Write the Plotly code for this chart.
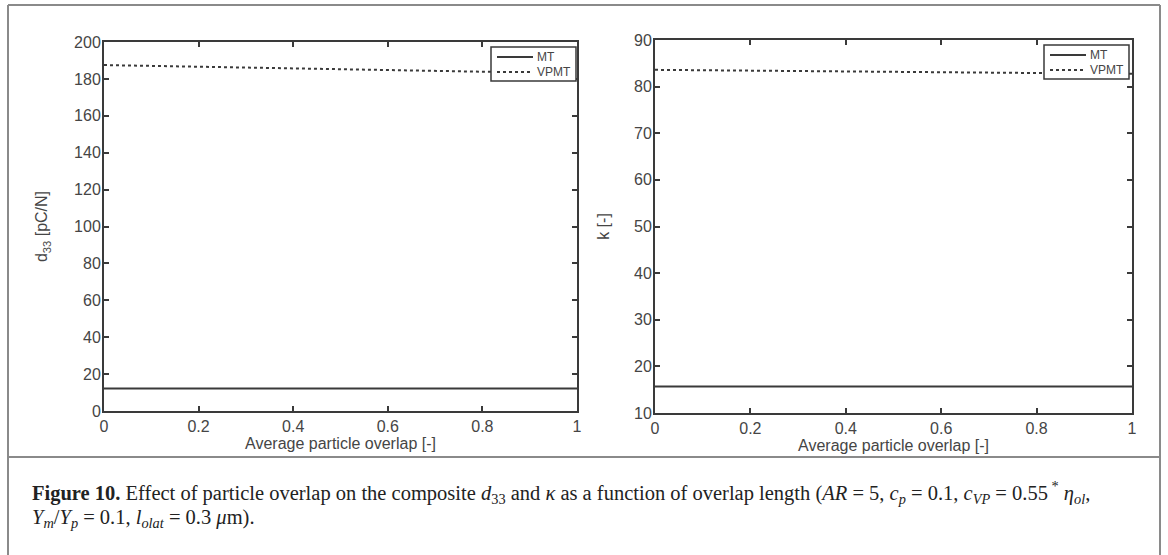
import plotly.graph_objects as go

W, H = 1168, 555

x_overlap = [0, 0.2, 0.4, 0.6, 0.8, 1.0]
d33_MT = [12.2, 12.2, 12.2, 12.2, 12.2, 12.2]
d33_VPMT = [187.5, 186.6, 185.7, 184.8, 183.9, 183.0]
k_MT = [15.7, 15.7, 15.7, 15.7, 15.7, 15.7]
k_VPMT = [83.6, 83.4, 83.25, 83.1, 82.9, 82.75]

x_ticks = [0, 0.2, 0.4, 0.6, 0.8, 1]
x_tick_labels = ["0", "0.2", "0.4", "0.6", "0.8", "1"]
d33_ticks = list(range(0, 201, 20))
k_ticks = list(range(10, 91, 10))
legend_names = ["MT", "VPMT"]

ink = "#3a3a3a"
txt = "#454545"
font = "Liberation Sans, Arial, sans-serif"


def px(xp):
    return xp / W


def py(yp):
    return 1 - yp / H


fig = go.Figure()
fig.add_trace(go.Scatter(x=x_overlap, y=d33_MT, mode="lines", name=legend_names[0],
                         line=dict(color=ink, width=2), xaxis="x", yaxis="y"))
fig.add_trace(go.Scatter(x=x_overlap, y=d33_VPMT, mode="lines", name=legend_names[1],
                         line=dict(color=ink, width=2, dash="dot"), xaxis="x", yaxis="y"))
fig.add_trace(go.Scatter(x=x_overlap, y=k_MT, mode="lines", name=legend_names[0],
                         line=dict(color=ink, width=2), xaxis="x2", yaxis="y2"))
fig.add_trace(go.Scatter(x=x_overlap, y=k_VPMT, mode="lines", name=legend_names[1],
                         line=dict(color=ink, width=2, dash="dot"), xaxis="x2", yaxis="y2"))

axis_common = dict(showgrid=False, zeroline=False, showline=True, linecolor=ink, linewidth=2,
                   mirror="ticks", ticks="inside", ticklen=5, tickcolor=ink, tickwidth=1.5,
                   automargin=False,
                   tickfont=dict(family=font, size=16, color=txt))

xa = dict(axis_common, range=[0, 1], tickvals=x_ticks, ticktext=x_tick_labels,
          title=dict(text="Average particle overlap [-]", font=dict(family=font, size=16, color=txt), standoff=4))

fig.update_layout(
    width=W, height=H, margin=dict(l=0, r=0, t=0, b=0, autoexpand=False),
    paper_bgcolor="white", plot_bgcolor="white",
    showlegend=False,
    xaxis=dict(xa, domain=[px(104), px(577)], anchor="y"),
    yaxis=dict(axis_common, domain=[py(411), py(42)], range=[0, 200], tickvals=d33_ticks, anchor="x",
               ticklabelstandoff=-2,
               title=dict(text="d<sub>33</sub> [pC/N]", font=dict(family=font, size=16, color=txt), standoff=22)),
    xaxis2=dict(xa, domain=[px(655), px(1132)], anchor="y2"),
    yaxis2=dict(axis_common, domain=[py(413), py(40)], range=[10, 90], tickvals=k_ticks, anchor="x2",
                ticklabelstandoff=-2,
                title=dict(text="k [-]", font=dict(family=font, size=16, color=txt), standoff=20)),
)

frame = "#8a8a8a"
shapes = [
    dict(type="line", xref="paper", yref="paper", x0=px(8), x1=px(1160), y0=py(5), y1=py(5), line=dict(color=frame, width=2)),
    dict(type="line", xref="paper", yref="paper", x0=px(8), x1=px(1160), y0=py(457), y1=py(457), line=dict(color=frame, width=2)),
    dict(type="line", xref="paper", yref="paper", x0=px(8), x1=px(8), y0=py(5), y1=0, line=dict(color=frame, width=2)),
    dict(type="line", xref="paper", yref="paper", x0=px(1160), x1=px(1160), y0=py(5), y1=0, line=dict(color=frame, width=2)),
]

# compact MATLAB-style legends: (box left, box top, box right, box bottom)
legend_boxes = [(491, 47, 576, 81), (1044, 45, 1129, 79)]
for (bx0, by0, bx1, by1) in legend_boxes:
    shapes.append(dict(type="rect", xref="paper", yref="paper", x0=px(bx0), x1=px(bx1), y0=py(by0), y1=py(by1),
                       line=dict(color=ink, width=1.5), fillcolor="white", layer="above"))
    rows = [(by0 + 10, "solid"), (by0 + 25, "dot")]
    for (ry, dash), name in zip(rows, legend_names):
        shapes.append(dict(type="line", xref="paper", yref="paper", x0=px(bx0 + 6), x1=px(bx0 + 42),
                           y0=py(ry), y1=py(ry), line=dict(color=ink, width=2, dash=dash), layer="above"))
        fig.add_annotation(x=px(bx0 + 44), y=py(ry), xref="paper", yref="paper", xanchor="left", yanchor="middle",
                           text=name, showarrow=False, font=dict(family=font, size=12, color=txt))

fig.update_layout(shapes=shapes)

serif = "Liberation Serif, Times New Roman, serif"
caption1 = ("<b>Figure 10.</b> Effect of particle overlap on the composite <i>d</i><sub>33</sub> and <i>κ</i> as a function "
            "of overlap length (<i>AR</i> = 5, <i>c<sub>p</sub></i> = 0.1, <i>c<sub>VP</sub></i> = 0.55<sup> *</sup> <i>η<sub>ol</sub></i>,")
caption2 = "<i>Y<sub>m</sub></i>/<i>Y<sub>p</sub></i> = 0.1, <i>l<sub>olat</sub></i> = 0.3 <i>μ</i>m)."
fig.add_annotation(x=px(30), y=py(492), xref="paper", yref="paper", xanchor="left", yanchor="middle",
                   text=caption1, showarrow=False, align="left",
                   font=dict(family=serif, size=20.5, color="#222222"))
fig.add_annotation(x=px(30), y=py(518), xref="paper", yref="paper", xanchor="left", yanchor="middle",
                   text=caption2, showarrow=False, align="left",
                   font=dict(family=serif, size=20.5, color="#222222"))

fig.write_html("out.html", config={"displayModeBar": False},
               post_script="document.body.style.margin='0px';")
